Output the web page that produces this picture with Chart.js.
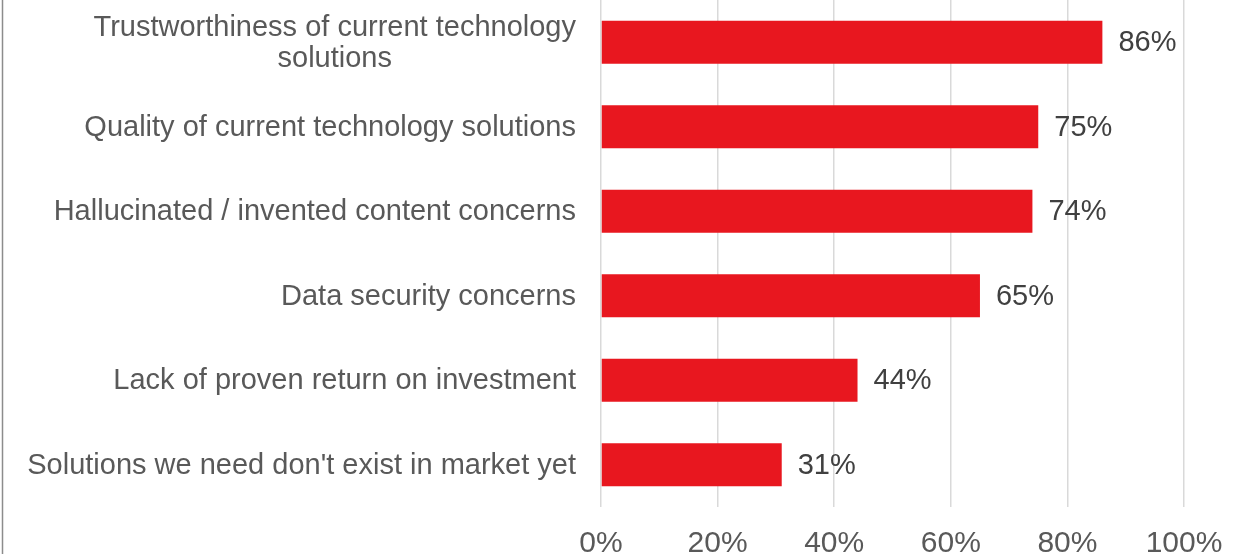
<!DOCTYPE html>
<html>
<head>
<meta charset="utf-8">
<script src="https://cdn.jsdelivr.net/npm/chart.js@4.4.1/dist/chart.umd.min.js"></script>
<style>
  html, body { margin: 0; padding: 0; background: #ffffff; }
  #wrap { position: relative; width: 1245px; height: 554px; }
</style>
</head>
<body>
<div id="wrap"><canvas id="chart" width="1245" height="554"></canvas></div>
<script>
// Barriers to adoption, share of respondents (%)
const categories = [
  ["Trustworthiness of current technology", "solutions"],
  ["Quality of current technology solutions"],
  ["Hallucinated / invented content concerns"],
  ["Data security concerns"],
  ["Lack of proven return on investment"],
  ["Solutions we need don't exist in market yet"]
];
const values = [86, 75, 74, 65, 44, 31];
const xTicks = [0, 20, 40, 60, 80, 100];

const FONT = "'Liberation Sans', Arial, sans-serif";
const FONT_SIZE = 29;
const LABEL_GAP = 25;    // space between category text and plot
const VALUE_GAP = 16;    // space between bar end and value text

// Category names, drawn right-aligned as a block with lines centred inside it
const categoryLabels = {
  id: 'categoryLabels',
  afterDraw(chart) {
    const { ctx, chartArea } = chart;
    const yScale = chart.scales.y;
    ctx.save();
    ctx.font = FONT_SIZE + 'px ' + FONT;
    ctx.fillStyle = '#595959';
    ctx.textBaseline = 'middle';
    ctx.textAlign = 'center';
    const lineH = 31;
    categories.forEach((lines, i) => {
      const yc = yScale.getPixelForValue(i);
      const w = Math.max(...lines.map(l => ctx.measureText(l).width));
      const right = chartArea.left - LABEL_GAP;
      const cx = right - w / 2;
      const y0 = yc - (lines.length - 1) * lineH / 2 + 1;
      lines.forEach((l, k) => ctx.fillText(l, cx, y0 + k * lineH));
    });
    ctx.restore();
  }
};

// Percent value at the end of every bar
const valueLabels = {
  id: 'valueLabels',
  afterDatasetsDraw(chart) {
    const { ctx } = chart;
    const meta = chart.getDatasetMeta(0);
    ctx.save();
    ctx.font = FONT_SIZE + 'px ' + FONT;
    ctx.fillStyle = '#404040';
    ctx.textBaseline = 'middle';
    ctx.textAlign = 'left';
    meta.data.forEach((bar, i) => {
      ctx.fillText(values[i] + '%', bar.x + VALUE_GAP, bar.y + 1);
    });
    ctx.restore();
  }
};

// Thin frame line along the left edge
const leftEdge = {
  id: 'leftEdge',
  afterDraw(chart) {
    const { ctx, height } = chart;
    ctx.save();
    ctx.strokeStyle = '#8c8c8c';
    ctx.lineWidth = 1.5;
    ctx.beginPath();
    ctx.moveTo(2.5, 0);
    ctx.lineTo(2.5, height);
    ctx.stroke();
    ctx.restore();
  }
};

new Chart(document.getElementById('chart'), {
  type: 'bar',
  data: {
    labels: categories.map(c => c.join(' ')),
    datasets: [{
      data: values,
      backgroundColor: '#E8171F',
      borderWidth: 0,
      categoryPercentage: 1,
      barPercentage: 0.51
    }]
  },
  options: {
    indexAxis: 'y',
    responsive: false,
    animation: false,
    layout: { padding: { left: 0, right: 61, top: 0, bottom: 0 } },
    plugins: { legend: { display: false }, tooltip: { enabled: false } },
    scales: {
      x: {
        min: 0,
        max: 100,
        afterBuildTicks(scale) { scale.ticks = xTicks.map(v => ({ value: v })); },
        afterFit(scale) { scale.height = 47; },
        grid: { color: '#d9d9d9', lineWidth: 1.5, drawTicks: false },
        border: { display: false },
        ticks: {
          padding: 19,
          color: '#595959',
          font: { family: FONT, size: 30 },
          callback: v => v + '%'
        }
      },
      y: {
        afterFit(scale) { scale.width = 601; },
        grid: { display: false },
        border: { display: false },
        ticks: { display: false }
      }
    }
  },
  plugins: [categoryLabels, valueLabels, leftEdge]
});
</script>
</body>
</html>
